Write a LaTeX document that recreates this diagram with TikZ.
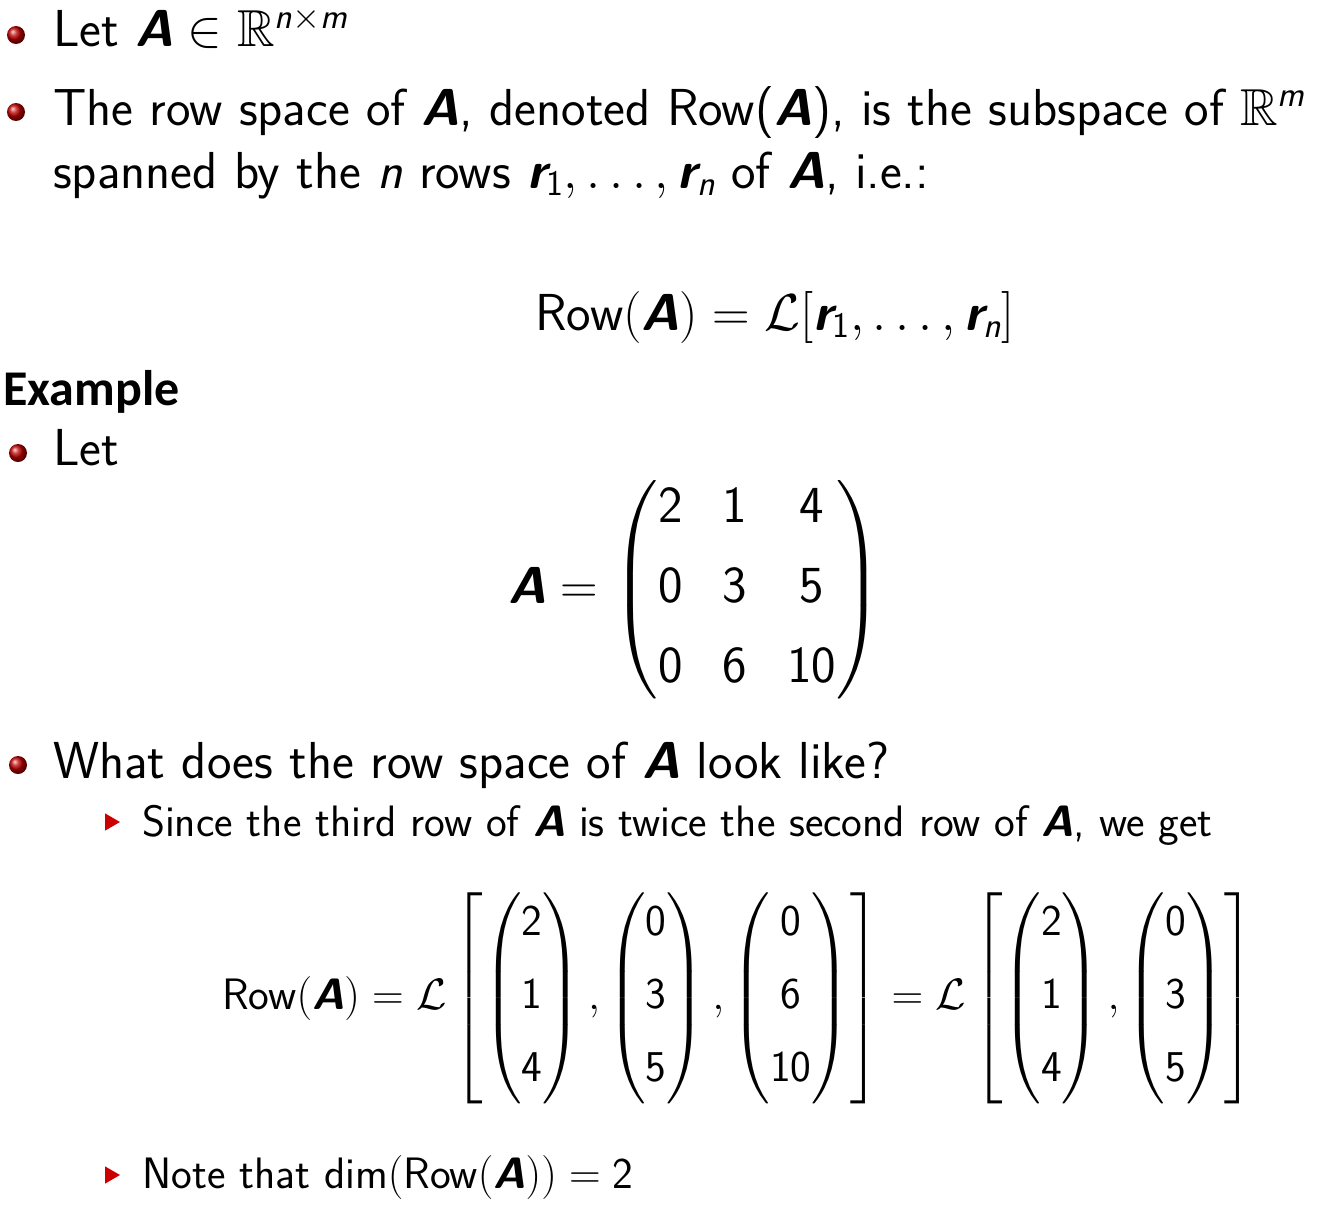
\documentclass[tikz,border=0pt]{standalone}
\usepackage{fix-cm}
\usepackage{amsmath,amssymb}
\usepackage{fontspec}
\newfontfamily\exfont{Carlito}
\DeclareMathSizes{52}{52}{36}{26}
\DeclareMathSizes{44}{44}{31}{22}
\newcommand{\bA}{\text{\bfseries\itshape A}}
\newcommand{\bR}{\text{\bfseries\itshape r}}
\newcommand{\sn}[1]{\text{\itshape #1}}
\newcommand{\sfn}[1]{\text{#1}}
\tikzset{txt/.style={anchor=base west,inner sep=0pt,font=\sffamily\fontsize{52}{62}\selectfont},
sub/.style={anchor=base west,inner sep=0pt,font=\sffamily\fontsize{44}{53}\selectfont},
ball/.style={circle,inner sep=0pt,minimum size=18pt,ball color=red!75!black,shading=ball},
tri/.style={fill=red!80!black,regular polygon,regular polygon sides=3,shape border rotate=-90,inner sep=0pt,minimum size=20pt}}
\usetikzlibrary{shapes.geometric}
\begin{document}
\begin{tikzpicture}[x=1pt,y=-1pt]
\useasboundingbox (0,0) rectangle (1340,1220);
\node[ball] (b1) at (16,35) {};
\node[txt] (l1) at (53,47) {Let $\bA \in \mathbb{R}^{\sn{n}\times \sn{m}}$};
\node[ball] (b2) at (16,112) {};
\node[txt] (l2) at (53,125) {The row space of $\bA$, denoted Row($\bA$), is the subspace of $\mathbb{R}^{\sn{m}}$};
\node[txt] (l3) at (53,188) {spanned by the \textit{n} rows $\bR_{\sfn 1},\ldots,\bR_{\sn n}$ of $\bA$, i.e.:};
\node[txt,anchor=base] (eq1) at (775,330) {$\text{Row}(\bA)=\mathcal{L}[\bR_{\sfn 1},\ldots,\bR_{\sn n}]$};
\node[anchor=base west,inner sep=0pt,font=\exfont\bfseries\fontsize{50}{60}\selectfont] (ex) at (3,405) {Example};
\node[ball] (b3) at (18,453) {};
\node[txt] (l4) at (53,465) {Let};
\node[txt,anchor=center] (mA) at (695,590) {\setlength{\arraycolsep}{20pt}$\bA=\begin{pmatrix}\sfn 2 & \sfn 1 & \sfn 4\\[18pt] \sfn 0 & \sfn 3 & \sfn 5\\[18pt] \sfn 0 & \sfn 6 & \sfn{10}\end{pmatrix}$};
\node[ball] (b4) at (18,765) {};
\node[txt] (l5) at (53,778) {What does the row space of $\bA$ look like?};
\node[tri] (t1) at (110,822) {};
\node[sub] (l6) at (142,836) {Since the third row of $\bA$ is twice the second row of $\bA$, we get};
\node[sub,anchor=center] (eq2) at (738,998) {$\text{Row}(\bA)=\mathcal{L}\left[\begin{pmatrix}\sfn 2\\[20pt]\sfn 1\\[20pt]\sfn 4\end{pmatrix},\begin{pmatrix}\sfn 0\\[20pt]\sfn 3\\[20pt]\sfn 5\end{pmatrix},\begin{pmatrix}\sfn 0\\[20pt]\sfn 6\\[20pt]\sfn{10}\end{pmatrix}\right]=\mathcal{L}\left[\begin{pmatrix}\sfn 2\\[20pt]\sfn 1\\[20pt]\sfn 4\end{pmatrix},\begin{pmatrix}\sfn 0\\[20pt]\sfn 3\\[20pt]\sfn 5\end{pmatrix}\right]$};
\node[tri] (t2) at (110,1175) {};
\node[sub] (l7) at (142,1188) {Note that $\text{dim}(\text{Row}(\bA))=\sfn 2$};
\end{tikzpicture}
\end{document}
